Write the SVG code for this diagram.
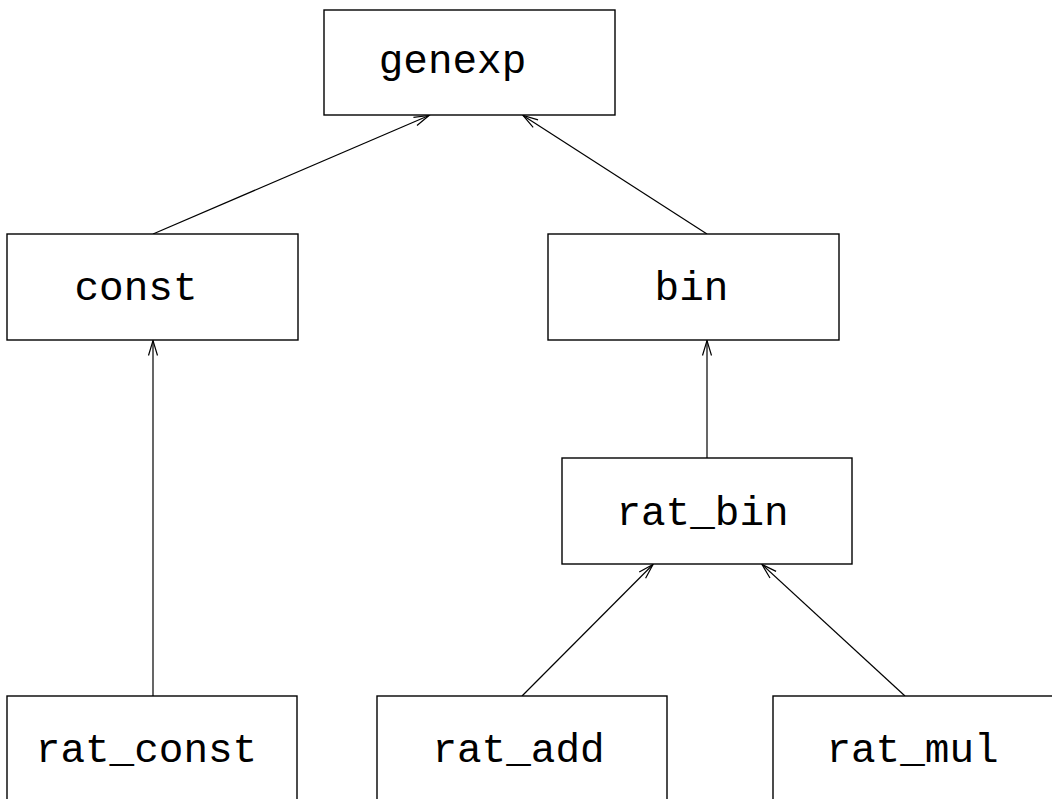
<svg xmlns="http://www.w3.org/2000/svg" width="1052" height="799" viewBox="0 0 1052 799">
<style>
.box{fill:#fff;stroke:#000;stroke-width:1.4}
.lbl{font-family:"Liberation Mono","Courier New",monospace;font-size:41px;fill:#000;text-anchor:middle}
.edge{stroke:#000;stroke-width:1.2;fill:none;marker-end:url(#arr)}
</style>
<defs>
<marker id="arr" markerUnits="userSpaceOnUse" markerWidth="20" markerHeight="12" viewBox="-16 -6 18 12" refX="0" refY="0" orient="auto" overflow="visible">
<path d="M-15,-4.5 L0,0 L-15,4.5" fill="none" stroke="#000" stroke-width="1.2"/>
</marker>
</defs>
<rect width="1052" height="799" fill="#fff"/>
<g id="connectors">
<line class="edge" x1="153" y1="234" x2="429" y2="115.5"/>
<line class="edge" x1="707" y1="234" x2="523" y2="115.5"/>
<line class="edge" x1="153" y1="696" x2="153" y2="340.5"/>
<line class="edge" x1="707" y1="458" x2="707" y2="340.5"/>
<line class="edge" x1="522" y1="696" x2="653" y2="564.5"/>
<line class="edge" x1="905" y1="696" x2="762" y2="564.5"/>
</g>
<g id="genexp"><rect class="box" x="324" y="10" width="291" height="105"/><text class="lbl" x="452.5" y="73">genexp</text></g>
<g id="const"><rect class="box" x="7" y="234" width="291" height="106"/><text class="lbl" x="136" y="300">const</text></g>
<g id="bin"><rect class="box" x="548" y="234" width="291" height="106"/><text class="lbl" x="691.5" y="300">bin</text></g>
<g id="rat_bin"><rect class="box" x="562" y="458" width="290" height="106"/><text class="lbl" x="702.5" y="525">rat_bin</text></g>
<g id="rat_const"><rect class="box" x="7" y="696" width="290" height="106"/><text class="lbl" x="146.5" y="762">rat_const</text></g>
<g id="rat_add"><rect class="box" x="377" y="696" width="290" height="106"/><text class="lbl" x="518.5" y="762">rat_add</text></g>
<g id="rat_mul"><rect class="box" x="773" y="696" width="290" height="106"/><text class="lbl" x="912.5" y="762">rat_mul</text></g>
</svg>
